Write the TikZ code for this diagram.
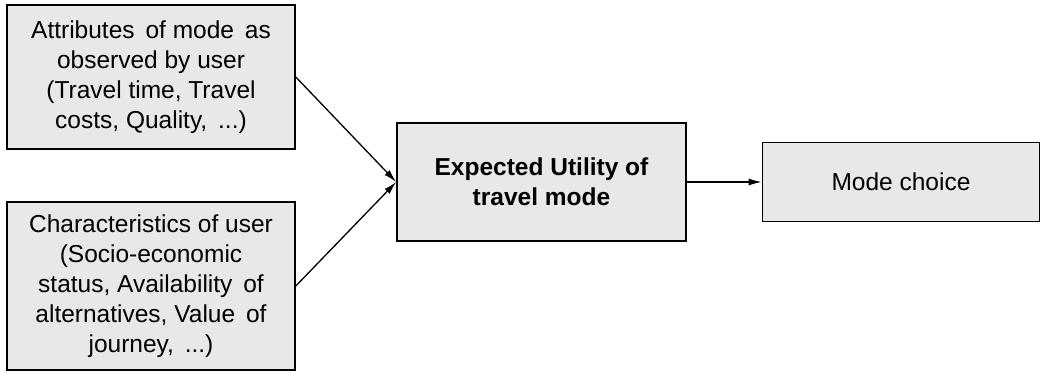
\documentclass[tikz,border=0pt]{standalone}
\usepackage{fontspec}
\setmainfont{Liberation Sans}
\usetikzlibrary{arrows.meta}
\begin{document}
\begin{tikzpicture}[x=1pt,y=-1pt,
  box/.style={draw=black,line width=1.6pt,fill=gray!18,align=center,
    inner sep=0pt,font=\fontsize{24.5}{30}\selectfont},
  flow/.style={line width=1.3pt,-{Latex[length=13pt,width=7pt]}}]
\useasboundingbox (0,0) rectangle (1040,370);
\node[box,minimum width=288pt,minimum height=144pt] (attr) at (151,77)
  {Attributes \,of mode \,as\\observed by user\\(Travel time, Travel\\costs, Quality, \,...)};
\node[box,minimum width=288pt,minimum height=168pt] (user) at (151,286)
  {Characteristics of user\\(Socio-economic\\status, Availability \,of\\alternatives, Value \,of\\journey, \,...)};
\node[box,minimum width=289pt,minimum height=118pt] (util) at (541.5,182)
  {\bfseries Expected Utility of\\\bfseries travel mode};
\node[box,minimum width=277pt,minimum height=79pt] (choice) at (901,182)
  {Mode choice};
\draw[flow] (attr.east) -- (util.west);
\draw[flow] (user.east) -- (util.west);
\draw[flow] (util.east) -- (choice.west);
\end{tikzpicture}
\end{document}
